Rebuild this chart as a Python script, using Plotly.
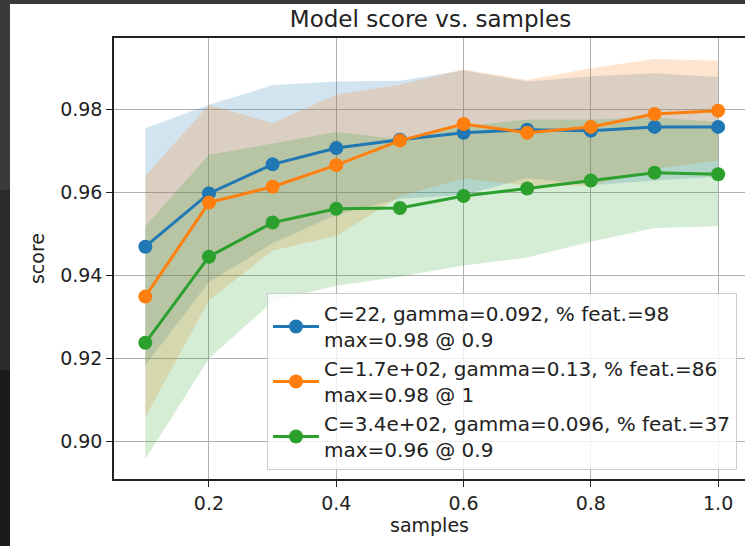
import plotly.graph_objects as go

samples = [0.1, 0.2, 0.3, 0.4, 0.5, 0.6, 0.7, 0.8, 0.9, 1.0]

blue_mean = [0.9469, 0.9597, 0.9667, 0.9706, 0.9726, 0.9743, 0.9750, 0.9748, 0.9757, 0.9757]
blue_std = [0.0285, 0.0213, 0.0190, 0.0160, 0.0142, 0.0150, 0.0116, 0.0131, 0.0129, 0.0120]

orange_mean = [0.9349, 0.9575, 0.9613, 0.9665, 0.9724, 0.9764, 0.9743, 0.9757, 0.9788, 0.9796]
orange_std = [0.0290, 0.0235, 0.0153, 0.0170, 0.0134, 0.0131, 0.0127, 0.0141, 0.0132, 0.0120]

green_mean = [0.9238, 0.9445, 0.9527, 0.9560, 0.9562, 0.9591, 0.9609, 0.9628, 0.9647, 0.9643]
green_std = [0.0280, 0.0245, 0.0190, 0.0185, 0.0165, 0.0167, 0.0166, 0.0147, 0.0133, 0.0125]

labels = [
    "C=22, gamma=0.092, % feat.=98<br>max=0.98 @ 0.9",
    "C=1.7e+02, gamma=0.13, % feat.=86<br>max=0.98 @ 1",
    "C=3.4e+02, gamma=0.096, % feat.=37<br>max=0.96 @ 0.9",
]
colors = ["#1f77b4", "#ff7f0e", "#2ca02c"]
fills = ["rgba(31,119,180,0.2)", "rgba(255,127,14,0.2)", "rgba(44,160,44,0.2)"]

x_ticks = [0.2, 0.4, 0.6, 0.8, 1.0]
y_ticks = [0.90, 0.92, 0.94, 0.96, 0.98]

series = [(blue_mean, blue_std), (orange_mean, orange_std), (green_mean, green_std)]

fig = go.Figure()
for (m, s), fc in zip(series, fills):
    upper = [a + b for a, b in zip(m, s)]
    lower = [a - b for a, b in zip(m, s)]
    fig.add_trace(go.Scatter(
        x=samples + samples[::-1], y=upper + lower[::-1],
        fill="toself", fillcolor=fc, line=dict(width=0),
        mode="lines", showlegend=False, hoverinfo="skip"))
for (m, s), c, lab in zip(series, colors, labels):
    fig.add_trace(go.Scatter(
        x=samples, y=m, mode="lines+markers", name=lab,
        line=dict(color=c, width=3), marker=dict(color=c, size=14)))

font = "DejaVu Sans, sans-serif"
W, H = 745, 546
L, R, T, B = 114, 0, 38, 67
pw, ph = W - L - R, H - T - B


def px_x(p):
    return (p - L) / pw


def px_y(p):
    return (H - B - p) / ph


def rect(x0, y0, x1, y1, color):
    return dict(type="rect", xref="paper", yref="paper",
                x0=px_x(x0), x1=px_x(x1), y0=px_y(y1), y1=px_y(y0),
                fillcolor=color, line=dict(width=0), layer="below")


shapes = [
    rect(0, 0, 10, 190, "#3a3a3a"),
    rect(0, 190, 10, 370, "#2a2a2a"),
    rect(0, 370, 10, 546, "#1b1b1b"),
    rect(0, 0, 745, 4, "#3a3a3a"),
    rect(10, 4, 745, 546, "#ffffff"),
]

fig.update_layout(
    width=W, height=H,
    margin=dict(l=L, r=R, t=T, b=B, pad=0),
    paper_bgcolor="#2a2a2a", plot_bgcolor="white",
    font=dict(family=font, size=19, color="#222"),
    title=dict(text="Model score vs. samples", x=(L + 747) / 2 / W, xanchor="center",
               y=1 - 19 / H, yanchor="middle", font=dict(size=23, color="#222")),
    xaxis=dict(range=[0.0508, 1.0422], tickvals=x_ticks, tickformat=".1f",
               showgrid=True, gridcolor="#b0b0b0", gridwidth=1.2,
               showline=True, linecolor="#222", linewidth=1.5, mirror=True,
               ticks="outside", ticklen=6, tickcolor="#222", tickwidth=1.2,
               zeroline=False, automargin=False,
               title=dict(text="samples", standoff=4, font=dict(size=19))),
    yaxis=dict(range=[0.891058, 0.997067], tickvals=y_ticks, tickformat=".2f",
               showgrid=True, gridcolor="#b0b0b0", gridwidth=1.2,
               showline=True, linecolor="#222", linewidth=1.5,
               ticks="outside", ticklen=6, tickcolor="#222", tickwidth=1.2,
               zeroline=False, automargin=False,
               title=dict(text="score", standoff=10, font=dict(size=19))),
    legend=dict(x=px_x(737), xanchor="right", y=px_y(470), yanchor="bottom",
                bgcolor="rgba(255,255,255,0.8)", bordercolor="#cccccc", borderwidth=1,
                font=dict(size=20, color="#222"), itemwidth=46, tracegroupgap=2),
    shapes=shapes,
    showlegend=True,
)

fig.write_html("out.html", config={"displayModeBar": False},
               post_script="document.body.style.margin='0px';")
